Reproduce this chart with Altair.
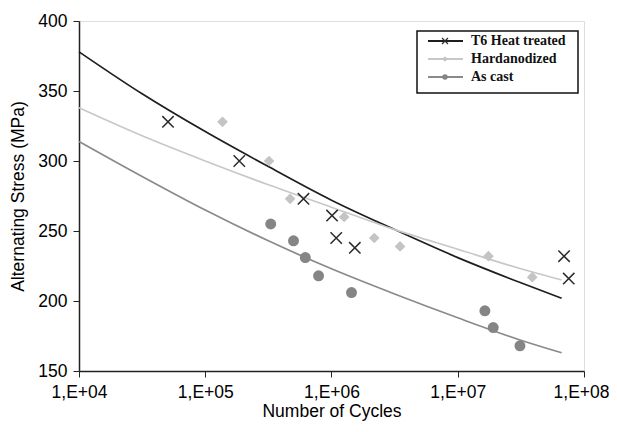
import altair as alt
import pandas as pd

# ---- data ----
series_names = ["T6 Heat treated", "Hardanodized", "As cast"]

t6_cycles = [5.07e4, 1.86e5, 6.0e5, 1.01e6, 1.09e6, 1.53e6, 6.95e7, 7.57e7]
t6_stress = [328, 300, 273, 261, 245, 238, 232, 216]

hard_cycles = [1.37e5, 3.2e5, 4.7e5, 1.26e6, 2.18e6, 3.49e6, 1.75e7, 3.89e7]
hard_stress = [328, 300, 273, 260, 245, 239, 232, 217]

cast_cycles = [3.3e5, 5.0e5, 6.2e5, 7.9e5, 1.44e6, 1.64e7, 1.91e7, 3.11e7]
cast_stress = [255, 243, 231, 218, 206, 193, 181, 168]

# trend lines
trend_cycles = [1e4, 3.162e4, 1e5, 3.162e5, 1e6, 3.162e6, 1e7, 3.162e7, 6.65e7]
t6_trend = [378, 348, 321, 296, 272, 251, 231, 213, 202]
hard_trend = [338, 318, 300, 283, 267, 251, 237, 223, 215]
cast_trend = [314, 289, 265, 243, 223, 205, 188, 172, 163]

x_ticks = [1e4, 1e5, 1e6, 1e7, 1e8]
y_ticks = [150, 200, 250, 300, 350, 400]

colors = {"T6 Heat treated": "#2b2b2b", "Hardanodized": "#c4c4c4", "As cast": "#858585"}
line_colors = {"T6 Heat treated": "#1e1e1e", "Hardanodized": "#c8c8c8", "As cast": "#8a8a8a"}

W, H = 505, 350
XPATH = "M-1,-1L1,1M-1,1L1,-1"

xscale = alt.Scale(type="log", domain=[1e4, 1e8], nice=False)
yscale = alt.Scale(domain=[150, 400], nice=False, zero=False)

xaxis = alt.Axis(values=x_ticks, labelExpr="'1,E+0' + round(log(datum.value)/LN10)",
                 title="Number of Cycles", grid=False, tickSize=6, labelPadding=6,
                 labelFlush=False, labelOverlap=False, labelFontSize=17.5, titleFontSize=17.5,
                 labelOffset={"condition": {"test": "datum.value >= 1e8", "value": -3}, "value": 0},
                 labelFont="Liberation Sans", titleFont="Liberation Sans",
                 titleFontWeight="normal", labelColor="#000", titleColor="#000",
                 domainColor="#222", tickColor="#222", domainWidth=1.5,
                 titleX=W / 2, titleY=40, titleBaseline="middle")
yaxis = alt.Axis(values=y_ticks, title="Alternating Stress (MPa)", grid=False, tickSize=6,
                 labelPadding=6, labelFlush=False, labelOverlap=False, labelFontSize=17.5,
                 titleFontSize=17.5, labelFont="Liberation Sans", titleFont="Liberation Sans",
                 titleFontWeight="normal", labelColor="#000", titleColor="#000",
                 domainColor="#222", tickColor="#222", domainWidth=1.5,
                 titleX=-61, titleY=H / 2, titleBaseline="middle", titleAngle=-90)

def pts(c, s, name):
    return pd.DataFrame({"cycles": c, "stress": s, "series": name})

layers = []
for name, trend in zip(series_names, [t6_trend, hard_trend, cast_trend]):
    df = pd.DataFrame({"cycles": trend_cycles, "stress": trend})
    layers.append(alt.Chart(df).mark_line(color=line_colors[name], strokeWidth=1.7,
                                            interpolate="monotone").encode(
        x=alt.X("cycles:Q", scale=xscale, axis=xaxis),
        y=alt.Y("stress:Q", scale=yscale, axis=yaxis)))

layers.append(alt.Chart(pts(hard_cycles, hard_stress, "Hardanodized")).mark_point(
    shape="diamond", filled=True, size=115, color=colors["Hardanodized"], opacity=1).encode(
    x="cycles:Q", y="stress:Q"))
layers.append(alt.Chart(pts(cast_cycles, cast_stress, "As cast")).mark_point(
    shape="circle", filled=True, size=120, color=colors["As cast"], opacity=1).encode(
    x="cycles:Q", y="stress:Q"))
layers.append(alt.Chart(pts(t6_cycles, t6_stress, "T6 Heat treated")).mark_point(
    shape=XPATH, filled=False, size=130, color=colors["T6 Heat treated"], strokeWidth=1.5,
    opacity=1).encode(x="cycles:Q", y="stress:Q"))

# ---- legend (drawn in pixel space of the plot area) ----
box = pd.DataFrame({"k": [0]})
layers.append(alt.Chart(box).mark_rect(fill="white", stroke="#111", strokeWidth=1.5).encode(
    x=alt.value(338), x2=alt.value(499), y=alt.value(10), y2=alt.value(72)))
row_y = [20, 38, 56]
marker_shape = {"T6 Heat treated": XPATH, "Hardanodized": "diamond", "As cast": "circle"}
for name, yy in zip(series_names, row_y):
    d = pd.DataFrame({"label": [name]})
    layers.append(alt.Chart(d).mark_rule(color=line_colors[name], strokeWidth=1.8).encode(
        x=alt.value(349), x2=alt.value(384), y=alt.value(yy)))
    filled = name != "T6 Heat treated"
    layers.append(alt.Chart(d).mark_point(shape=marker_shape[name], filled=filled,
                                          size=30 if filled else 36, strokeWidth=1.2,
                                          color=colors[name], opacity=1).encode(
        x=alt.value(366), y=alt.value(yy)))
    layers.append(alt.Chart(d).mark_text(align="left", baseline="middle", font="Liberation Serif",
                                         fontSize=14, fontWeight="bold", color="#111").encode(
        x=alt.value(392), y=alt.value(yy), text="label:N"))

chart = alt.layer(*layers).properties(
    width=W, height=H, autosize=alt.AutoSizeParams(type="none"),
    padding={"left": 71, "top": 13, "right": 25, "bottom": 53},
).configure_view(stroke="#222", strokeWidth=1.5).configure(background="white")

chart.save("out.html", embed_options={"renderer": "svg", "actions": False})
